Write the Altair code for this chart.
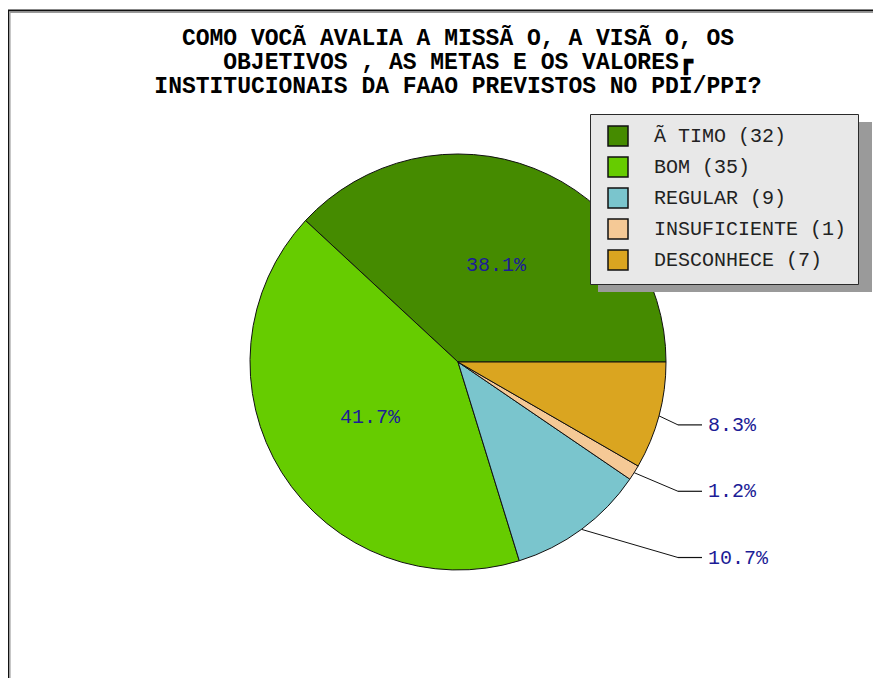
import math
import altair as alt
import pandas as pd

# ---- data ----
categories = ["Ã TIMO", "BOM", "REGULAR", "INSUFICIENTE", "DESCONHECE"]
counts = [32, 35, 9, 1, 7]
colors = ["#458B00", "#66CC00", "#7AC5CD", "#F5C996", "#DAA520"]
pie_order = [5, 4, 3, 2, 1]  # clockwise from 3 o'clock
title_lines = [
    "COMO VOCÃ  AVALIA A MISSÃ O, A VISÃ O, OS",
    "OBJETIVOS , AS METAS E OS VALORES┏",
    "INSTITUCIONAIS DA FAAO PREVISTOS NO PDI/PPI?",
]

total = sum(counts)
legend_labels = [f"{c} ({n})" for c, n in zip(categories, counts)]
pct_labels = [f"{n / total * 100:.1f}%" for n in counts]

df = pd.DataFrame({
    "cat": categories,
    "label": legend_labels,
    "value": counts,
    "order": pie_order,
    "pct": pct_labels,
})

# ---- layout constants ----
W, H = 865, 670
CX, CY, R = 450, 354, 208
FONT = "Liberation Mono"
LABEL_COLOR = "#1c1c96"

base = alt.Chart(df)
one = alt.Chart(pd.DataFrame({"k": [0]}))

theta = alt.Theta("value:Q", stack=True,
                  scale=alt.Scale(range=[math.pi / 2, math.pi / 2 + 2 * math.pi]))

frame_dark = one.mark_rule(color="#111", strokeWidth=2)
frame_gray = one.mark_rule(color="#999", strokeWidth=1.5)
frame = alt.layer(
    frame_dark.encode(x=alt.value(0), x2=alt.value(W), y=alt.value(2.5), y2=alt.value(2.5)),
    frame_dark.encode(x=alt.value(0), x2=alt.value(0), y=alt.value(2.5), y2=alt.value(H)),
    frame_gray.encode(x=alt.value(1.5), x2=alt.value(W), y=alt.value(4.2), y2=alt.value(4.2)),
    frame_gray.encode(x=alt.value(1.8), x2=alt.value(1.8), y=alt.value(4.2), y2=alt.value(H)),
)

pie = base.mark_arc(outerRadius=R, stroke="#111", strokeWidth=1).encode(
    theta=theta,
    order=alt.Order("order:Q"),
    color=alt.Color(
        "label:N",
        scale=alt.Scale(domain=legend_labels, range=colors),
        legend=alt.Legend(
            title=None, orient="none", legendX=582, legendY=106,
            fillColor="#e8e8e8", strokeColor="#2a2a2a", padding=11,
            symbolType="square", symbolSize=400, symbolStrokeColor="#111",
            symbolStrokeWidth=1.5, symbolOpacity=1, symbolOffset=6,
            labelFont=FONT, labelFontSize=20, labelColor="#222",
            labelOffset=25, labelLimit=400, rowPadding=5,
        ),
    ),
    x=alt.value(CX),
    y=alt.value(CY),
)

inner = base.mark_text(radius=104, font=FONT, fontSize=20, fill=LABEL_COLOR).encode(
    theta=theta,
    order=alt.Order("order:Q"),
    text="pct:N",
    opacity=alt.condition("datum.value >= 20", alt.value(1), alt.value(0)),
    x=alt.value(CX),
    y=alt.value(CY),
)

outer_base = (
    base.transform_joinaggregate(total="sum(value)")
    .transform_window(cum="sum(value)", sort=[alt.SortField("order")], frame=[None, 0])
    .transform_calculate(mid="2*PI*(datum.cum - datum.value/2)/datum.total + PI/2")
    .transform_calculate(
        ex=f"{CX} + {R}*sin(datum.mid)",
        ey=f"{CY} - {R}*cos(datum.mid)",
        ly=f"{CY} - 243*cos(datum.mid)",
        kx=f"{CX + 220}",
        tx=f"{CX + 244}",
        lx=f"{CX + 250}",
    )
    .transform_filter("datum.value < 20")
)

lead1 = outer_base.mark_rule(color="#111", strokeWidth=1).encode(
    x=alt.X("ex:Q", scale=None), y=alt.Y("ey:Q", scale=None),
    x2="kx:Q", y2="ly:Q",
)
lead2 = outer_base.mark_rule(color="#111", strokeWidth=1.2).encode(
    x=alt.X("kx:Q", scale=None), y=alt.Y("ly:Q", scale=None),
    x2="tx:Q", y2="ly:Q",
)
outer_text = outer_base.mark_text(
    align="left", baseline="middle", font=FONT, fontSize=20, fill=LABEL_COLOR
).encode(
    x=alt.X("lx:Q", scale=None), y=alt.Y("ly:Q", scale=None), text="pct:N",
)

shadow = one.mark_rect(color="#9a9a9a").encode(
    x=alt.value(590), x2=alt.value(864), y=alt.value(114), y2=alt.value(284),
)

title = one.mark_text(
    text=title_lines, lineHeight=24, font=FONT, fontWeight="bold",
    fontSize=23, align="center", baseline="alphabetic", color="#000",
).encode(x=alt.value(CX), y=alt.value(37))

chart = (
    alt.layer(frame, pie, inner, lead1, lead2, outer_text, shadow, title)
    .properties(width=W, height=H, autosize="none", padding=0, background="white")
    .configure_view(stroke=None)
)

chart.save("out.html", embed_options={"renderer": "svg", "actions": False})
